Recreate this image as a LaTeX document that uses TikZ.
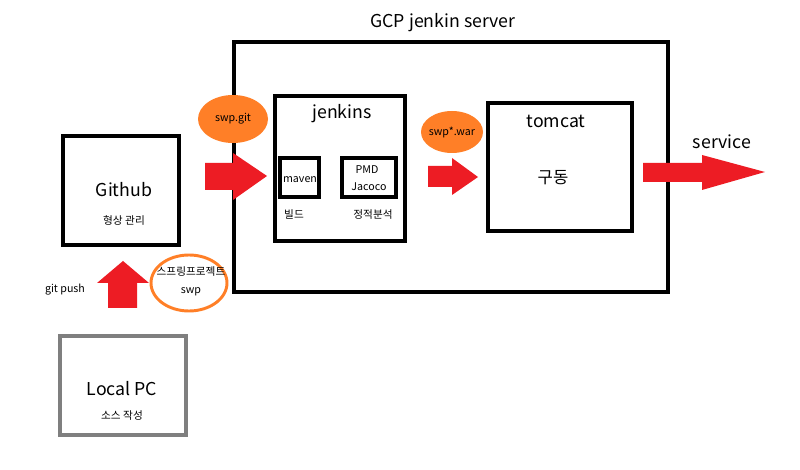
\documentclass[tikz,border=0pt]{standalone}
\usepackage{fontspec}
\setmainfont{Noto Sans CJK KR}
\usetikzlibrary{shapes.geometric}
\definecolor{arrred}{HTML}{ED1C24}
\definecolor{blobor}{HTML}{FF7F27}
\definecolor{boxgray}{HTML}{7F7F7F}
\begin{document}
\begin{tikzpicture}[x=0.75pt,y=-0.75pt,
  box/.style={draw=black,line width=2.3pt},
  big/.style={font=\fontsize{13.3}{15}\selectfont,inner sep=0pt},
  small/.style={font=\fontsize{8}{9}\selectfont,inner sep=0pt},
  blockarrow/.style={fill=arrred,draw=none},
  blob/.style={ellipse,fill=blobor,draw=none,inner sep=0pt}]
\useasboundingbox (0,0) rectangle (800,470);
\fill[white] (0,0) rectangle (800,470);
% boxes
\draw[box] (234,42) rectangle (668,292);
\node[big] (gcptitle) at (443,23) {GCP jenkin server};
\draw[box] (275,96) rectangle (405,241);
\node[big] (jenk) at (342,114) {jenkins};
\draw[box] (280,158) rectangle (319,197);
\node[small] (maven) at (300,180) {maven};
\draw[box] (342,158) rectangle (396,197);
\node[small] (pmd) at (367,170) {PMD};
\node[small] (jacoco) at (369,187) {Jacoco};
\node[small] (build) at (294,214) {빌드};
\node[small] (static) at (373,215) {정적분석};
\draw[box] (488,103) rectangle (632,231);
\node[big] (tomcat) at (556,121) {tomcat};
\node[font=\fontsize{12.5}{14}\selectfont,inner sep=0pt] (run) at (553,178) {구동};
\draw[box] (63,136) rectangle (179,245);
\node[big] (github) at (124,190) {Github};
\node[small] (vcs) at (124,220) {형상 관리};
\draw[box,draw=boxgray] (60,336) rectangle (186,435);
\node[big] (localpc) at (122,389) {Local PC};
\node[small] (src) at (122,416) {소스 작성};
% ellipses
\node[blob,minimum width=52.5pt,minimum height=36pt] (swpgit) at (233,119) {};
\node[small] at (swpgit) {swp.git};
\node[blob,minimum width=46.5pt,minimum height=31.5pt] (swpwar) at (452,132) {};
\node[small] at (swpwar) {swp*.war};
\draw[blobor,line width=2.2pt] (189,283) ellipse (38 and 28);
\node[small] (proj) at (191,272) {스프링프로젝트};
\node[small] (swp) at (191,292) {swp};
% arrows
\fill[blockarrow] (205,163) -- (233,163) -- (233,153) -- (267,176) -- (233,200) -- (233,190) -- (205,190) -- cycle;
\fill[blockarrow] (428,166) -- (452,166) -- (452,158) -- (478,177) -- (452,195) -- (452,187) -- (428,187) -- cycle;
\fill[blockarrow] (643,163) -- (702,163) -- (702,155) -- (765,172) -- (702,190) -- (702,182) -- (643,182) -- cycle;
\fill[blockarrow] (108,308) -- (108,283) -- (97,283) -- (123,261) -- (149,283) -- (137,283) -- (137,308) -- cycle;
\node[small] (gitpush) at (65,290) {git push};
\node[big] (service) at (722,142) {service};
\end{tikzpicture}
\end{document}
